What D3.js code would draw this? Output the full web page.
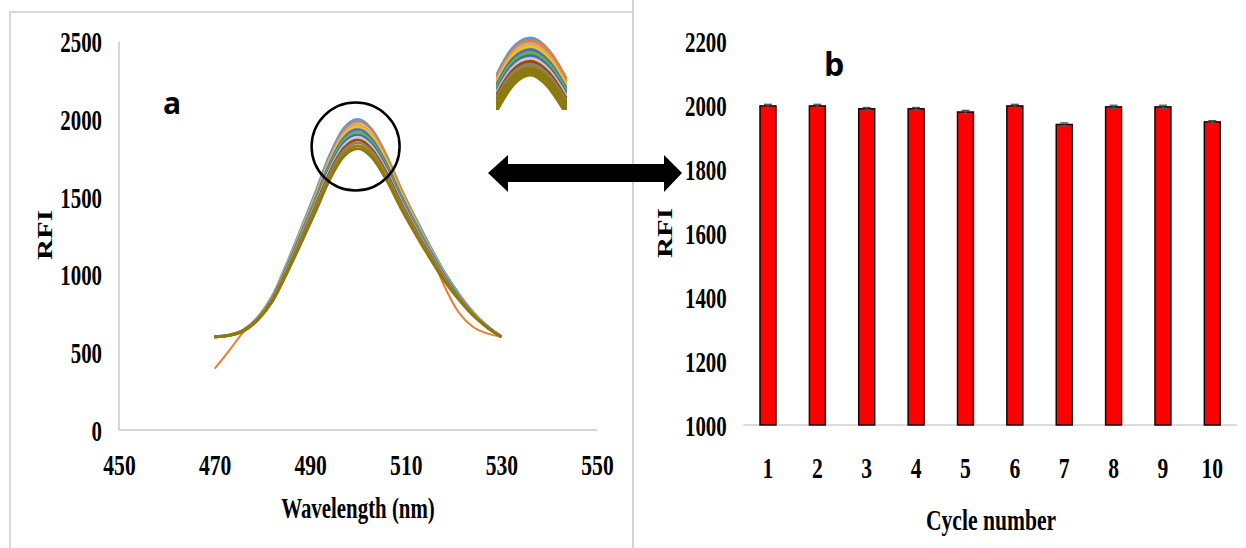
<!DOCTYPE html>
<html>
<head>
<meta charset="utf-8">
<script src="https://cdn.jsdelivr.net/npm/d3@7"></script>
<style>
  body { margin: 0; background: #fff; }
  svg { display: block; }
  .tick text { font-family: "Liberation Serif", "Times New Roman", serif; font-weight: bold; fill: #000; }
</style>
</head>
<body>
<div id="chart"></div>
<script>
// canvas
let w = 1246
let h = 548

// ---- panel a : emission spectra (one array per run) ----
let wavelengths = [470,473,476,479,482,485,488,491,494,497,500,503,506,509,512,515,518,521,524,527,530];
let run1  = [600,611,643,724,858,1063,1289,1521,1763,1941,2000,1930,1763,1553,1365,1187,1020,880,762,670,600];
let run2  = [395,510,630,722,856,1058,1282,1511,1750,1926,1985,1925,1765,1555,1360,1150,930,760,665,622,600];
let run3  = [600,611,642,721,852,1052,1273,1499,1736,1910,1968,1899,1736,1531,1347,1173,1010,874,758,668,600];
let run4  = [600,610,642,720,850,1047,1266,1489,1723,1895,1952,1884,1723,1520,1338,1167,1006,870,756,668,600];
let run5  = [600,610,641,718,846,1042,1257,1478,1709,1879,1935,1868,1709,1509,1329,1160,1001,867,754,667,600];
let run6  = [600,610,641,717,843,1036,1249,1467,1695,1862,1918,1852,1695,1497,1320,1153,995,864,752,666,600];
let run7  = [600,610,640,715,840,1030,1240,1455,1680,1845,1900,1835,1680,1485,1310,1145,990,860,750,665,600];
let run8  = [600,610,640,714,837,1025,1232,1445,1667,1830,1885,1820,1667,1474,1301,1138,985,857,748,664,600];
let run9  = [600,610,639,712,834,1019,1224,1434,1653,1814,1868,1804,1653,1463,1292,1131,980,854,746,663,600];
let run10 = [600,610,638,711,831,1014,1216,1423,1639,1798,1850,1788,1639,1451,1283,1124,975,850,744,663,600];
let run11 = [600,609,638,709,827,1007,1205,1409,1622,1778,1830,1768,1622,1437,1272,1116,969,846,742,661,600];
let run12 = [600,609,637,707,824,1001,1196,1397,1607,1760,1812,1751,1607,1425,1262,1108,963,842,740,661,600];
let runs = [run1,run2,run3,run4,run5,run6,run7,run8,run9,run10,run11,run12];
let runColors = ["#5b9bd5","#ed7d31","#c3ab94","#ffc000","#4472c4","#70ad47","#3b6fb0","#c9c9c9","#9e480e","#8c8170","#a08000","#8a7a10"];

let xTicksA = [450,470,490,510,530,550];
let yTicksA = [0,500,1000,1500,2000,2500];

// ---- panel b : reusability ----
let cycles = ["1","2","3","4","5","6","7","8","9","10"];
let rfi = [1999,1999,1990,1990,1980,1999,1941,1996,1996,1949];
let rfiErr = [5,5,4,4,5,5,5,5,5,4];
let yTicksB = [1000,1200,1400,1600,1800,2000,2200];

let sx = 0.72; // the original figure is squeezed horizontally
let tickSize = 29;

let svg = d3.select("#chart")
            .append("svg")
            .attr("width", w)
            .attr("height", h);

// frame lines
svg.append("path")
  .attr("d", "M10,548 V12 H633")
  .attr("fill", "none")
  .attr("stroke", "#d9d9d9")
  .attr("stroke-width", 2);
svg.append("line")
  .attr("x1", 633).attr("x2", 633).attr("y1", 0).attr("y2", h)
  .attr("stroke", "#d4d4d4").attr("stroke-width", 2);

// ================= panel a =================
let xA = d3.scaleLinear().domain([450, 550]).range([119, 597]);
let yA = d3.scaleLinear().domain([0, 2500]).range([430, 41.7]);

// axis lines
svg.append("line")
  .attr("x1", xA(450)).attr("x2", xA(550)).attr("y1", yA(0)).attr("y2", yA(0))
  .attr("stroke", "#c8c8c8").attr("stroke-width", 1.5);
svg.append("line")
  .attr("x1", xA(450)).attr("x2", xA(450)).attr("y1", yA(0)).attr("y2", yA(2500))
  .attr("stroke", "#c8c8c8").attr("stroke-width", 1.5);

let axA = svg.append("g")
  .attr("transform", "translate(0," + yA(0) + ")")
  .call(d3.axisBottom(xA).tickValues(xTicksA).tickSize(0).tickFormat(d3.format("d")));
axA.select(".domain").remove();
axA.selectAll("text")
  .attr("y", 35).attr("dy", "0.35em")
  .attr("font-size", tickSize + 1)
  .attr("transform", "scale(" + sx + ",1)");

let ayA = svg.append("g")
  .attr("transform", "translate(" + xA(450) + ",0)")
  .call(d3.axisLeft(yA).tickValues(yTicksA).tickSize(0).tickFormat(d3.format("d")));
ayA.select(".domain").remove();
ayA.selectAll("text")
  .attr("x", -17 / sx).attr("dy", "0.35em")
  .attr("font-size", tickSize)
  .attr("transform", "scale(" + sx + ",1)");

svg.append("text")
  .attr("transform", "translate(" + 358 + ",508) scale(" + sx + ",1)")
  .attr("text-anchor", "middle").attr("dy", "0.35em")
  .attr("font-family", "Liberation Serif").attr("font-weight", "bold").attr("font-size", 29)
  .text("Wavelength (nm)");

svg.append("text")
  .attr("transform", "translate(45,235) rotate(-90) scale(1," + sx + ")")
  .attr("text-anchor", "middle").attr("dy", "0.35em")
  .attr("font-family", "Liberation Serif").attr("font-weight", "bold").attr("font-size", 29)
  .text("RFI");

svg.append("text")
  .attr("x", 172).attr("y", 114)
  .attr("text-anchor", "middle")
  .attr("font-family", "Open Sans").attr("font-weight", "bold").attr("font-size", 30)
  .text("a");

let lineA = d3.line()
  .x((d, i) => xA(wavelengths[i]))
  .y(d => yA(d))
  .curve(d3.curveMonotoneX);

svg.append("g").selectAll("path")
  .data(runs)
  .enter()
  .append("path")
  .attr("d", lineA)
  .attr("fill", "none")
  .attr("stroke", (d, i) => runColors[i])
  .attr("stroke-width", (d, i) => i == 1 ? 2 : 2.8)
  .attr("stroke-linejoin", "round");

// circle round the peaks
svg.append("circle")
  .attr("cx", xA(499.5)).attr("cy", yA(1825))
  .attr("r", 44)
  .attr("fill", "none").attr("stroke", "#000").attr("stroke-width", 2.5);

// magnified peaks (inset)
let xIn = d3.scaleLinear().domain([494, 506]).range([495, 566]);
let yIn = d3.scaleLinear().domain([1812, 2000]).range([72, 39]);
svg.append("clipPath").attr("id", "insetClip")
  .append("rect").attr("x", 496).attr("y", 30).attr("width", 71).attr("height", 80);
let lineIn = d3.line()
  .x((d, i) => xIn(wavelengths[i]))
  .y(d => yIn(d))
  .curve(d3.curveMonotoneX);
svg.append("g").attr("clip-path", "url(#insetClip)")
  .selectAll("path")
  .data(runs)
  .enter()
  .append("path")
  .attr("d", lineIn)
  .attr("fill", "none")
  .attr("stroke", (d, i) => runColors[i])
  .attr("stroke-width", (d, i) => i == runs.length - 1 ? 9 : 5);

// double arrow between the panels
svg.append("path")
  .attr("d", "M488,173 L508,155 L508,164 L664,164 L664,155 L682,173 L664,192 L664,182 L508,182 L508,192 Z")
  .attr("fill", "#000");

// ================= panel b =================
let xB = d3.scaleBand().domain(cycles).range([743.3, 1237]).paddingInner(0.676).paddingOuter(0.338);
let yB = d3.scaleLinear().domain([1000, 2200]).range([425, 41.7]);

svg.append("line")
  .attr("x1", 743.3).attr("x2", 1237).attr("y1", yB(1000)).attr("y2", yB(1000))
  .attr("stroke", "#d0d0d0").attr("stroke-width", 1.5);

svg.append("g").selectAll("rect")
  .data(rfi)
  .enter()
  .append("rect")
  .attr("x", (d, i) => xB(cycles[i]))
  .attr("y", d => yB(d))
  .attr("width", xB.bandwidth())
  .attr("height", d => yB(1000) - yB(d))
  .attr("fill", "#ff0000")
  .attr("stroke", "#000")
  .attr("stroke-width", 1.4);

// error bars
let eb = svg.append("g").attr("stroke", "#555").attr("stroke-width", 1.3);
rfi.forEach((v, i) => {
  let cx = xB(cycles[i]) + xB.bandwidth() / 2;
  eb.append("line").attr("x1", cx).attr("x2", cx).attr("y1", yB(v + rfiErr[i])).attr("y2", yB(v - rfiErr[i]));
  eb.append("line").attr("x1", cx - 4).attr("x2", cx + 4).attr("y1", yB(v + rfiErr[i])).attr("y2", yB(v + rfiErr[i]));
  eb.append("line").attr("x1", cx - 4).attr("x2", cx + 4).attr("y1", yB(v - rfiErr[i])).attr("y2", yB(v - rfiErr[i]));
});

let axB = svg.append("g")
  .attr("transform", "translate(0," + yB(1000) + ")")
  .call(d3.axisBottom(xB).tickSize(0));
axB.select(".domain").remove();
axB.selectAll("text")
  .attr("y", 43).attr("dy", "0.35em")
  .attr("font-size", tickSize + 1)
  .attr("transform", "scale(" + sx + ",1)");

let ayB = svg.append("g")
  .attr("transform", "translate(743.3,0)")
  .call(d3.axisLeft(yB).tickValues(yTicksB).tickSize(0).tickFormat(d3.format("d")));
ayB.select(".domain").remove();
ayB.selectAll("text")
  .attr("x", -16.6 / sx).attr("dy", "0.35em")
  .attr("font-size", tickSize)
  .attr("transform", "scale(" + sx + ",1)");

svg.append("text")
  .attr("transform", "translate(991,519) scale(" + sx + ",1)")
  .attr("text-anchor", "middle").attr("dy", "0.35em")
  .attr("font-family", "Liberation Serif").attr("font-weight", "bold").attr("font-size", 30)
  .text("Cycle number");

svg.append("text")
  .attr("transform", "translate(665,233) rotate(-90) scale(1," + sx + ")")
  .attr("text-anchor", "middle").attr("dy", "0.35em")
  .attr("font-family", "Liberation Serif").attr("font-weight", "bold").attr("font-size", 29)
  .text("RFI");

svg.append("text")
  .attr("x", 834).attr("y", 76)
  .attr("text-anchor", "middle")
  .attr("font-family", "Open Sans").attr("font-weight", "bold").attr("font-size", 32)
  .text("b");
</script>
</body>
</html>
